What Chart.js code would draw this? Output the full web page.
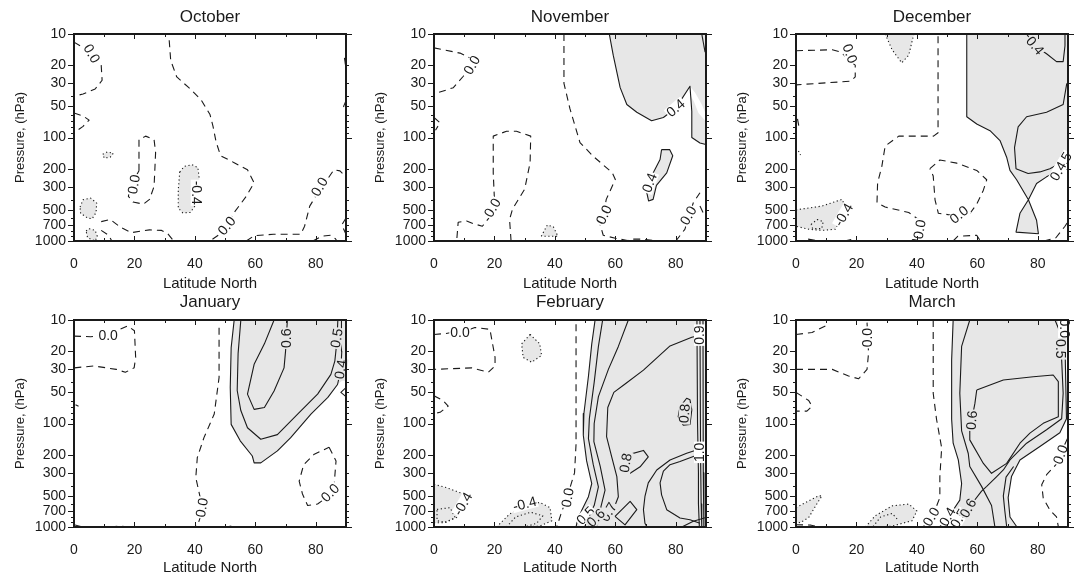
<!DOCTYPE html>
<html>
<head>
<meta charset="utf-8">
<script src="https://cdn.jsdelivr.net/npm/chart.js@4.4.1/dist/chart.umd.min.js"></script>
<style>
  body { margin: 0; background: #fff; width: 1084px; height: 577px; position: relative; overflow: hidden; }
  canvas { position: absolute; }
</style>
</head>
<body>
<canvas id="p0" width="360" height="288" style="left:0px;top:0px"></canvas>
<canvas id="p1" width="360" height="288" style="left:360px;top:0px"></canvas>
<canvas id="p2" width="360" height="288" style="left:722px;top:0px"></canvas>
<canvas id="p3" width="360" height="289" style="left:0px;top:288px"></canvas>
<canvas id="p4" width="360" height="289" style="left:360px;top:288px"></canvas>
<canvas id="p5" width="360" height="289" style="left:722px;top:288px"></canvas>
<script>
const FONT = "'Liberation Sans', Arial, Helvetica, sans-serif";
const INK = '#1a1a1a';
const SHADE = '#e7e7e7';

// axes
const months = ['October', 'November', 'December', 'January', 'February', 'March'];
const latTicks = [0, 20, 40, 60, 80];
const latMinor = [0, 10, 20, 30, 40, 50, 60, 70, 80, 90];
const presTicks = [10, 20, 30, 50, 100, 200, 300, 500, 700, 1000];
const presMinor = [10, 20, 30, 40, 50, 60, 70, 80, 90, 100, 200, 300, 400, 500, 600, 700, 800, 900, 1000];

// contours, points are [latitude, pressure hPa]
// October
const octZeroA = [[0,12],[4,14],[7,17],[9,20],[9.3,28],[7,34],[3,38],[0,40]];
const octZeroB = [[0,58],[3,62],[5,68],[3,78],[0.5,88]];
const octZeroC = [[31.5,11.5],[32,18],[34,26],[38,33],[42,43],[45,60],[46,78],[47,110],[48.5,150],[53,175],[57.4,205],[59.6,274],[57,370],[53,530],[49,830],[45,1000]];
const octZeroD = [[57,1000],[59.6,890],[66,860],[75,860],[76.3,720],[78,460],[81,330],[84,250],[86,205],[88,210],[90,240]];
const octZeroE = [[89.5,17],[90,22]];
const octZeroF = [[90,44],[89.2,50],[90,56]];
const octZeroG = [[90,600],[88.6,700],[90,860]];
const octZeroH = [[79,1000],[82,900],[85,880],[86.5,950],[87,1000]];
const octZeroI = [[21.5,210],[21.5,105],[23.7,97],[26.5,105],[27,140],[26.5,296],[25,396],[23,440],[19.5,420],[18,370],[18.5,300],[21.5,210]];
const octZeroJ = [[9,650],[12,620],[15.5,740],[19,830],[25,780],[29,790],[31,850],[33,1000]];
const octZeroK = [[9,790],[11.5,880],[12.5,1000]];
const octNegA = [[9.5,145],[11,138],[13,142],[12,155],[10,158],[9.5,145]];
const octNegB = [[35,215],[36.5,190],[39,183],[41,195],[41.5,260],[41,350],[40,460],[38.5,530],[36,535],[34.5,480],[34.5,320],[35,215]];
const octNegC = [[2,470],[3,400],[5.5,385],[7.5,430],[7.3,530],[6,610],[4.5,600],[2.2,540],[2,470]];
const octNegD = [[4,800],[5,760],[7,790],[7.7,900],[7,1000],[4.5,930],[4,800]];
const octLabels = [[5.8,15.5,0,60],[50.6,716,0,-50],[81.3,300,0,-60],[19.9,284,0,-80],[40.6,342,-0.4,90]];

// November
const novZeroA = [[0,13.6],[8.6,15.3],[13,17.7],[11.5,22],[9.7,25.6],[6.4,33],[0,38]];
const novZeroB = [[0,64],[2,72],[0.5,85]];
const novZeroC = [[43,10],[43,30],[45,53],[48.3,112],[52.7,152],[59,219],[60,254],[57,396],[56,560],[55,700],[56,880],[60,940],[64,990],[66,960],[69,960],[73,990]];
const novZeroD = [[80,1000],[83,771],[85.8,427],[88,342]];
const novZeroE = [[88,460],[89.6,574]];
const novZeroF = [[25.5,1000],[25,620],[26,490],[30,316],[31.8,175],[32,97],[27.3,87],[24,87],[19.6,97],[19.6,220],[20,400],[19,560],[16,720],[13,680],[10.8,640],[8,660],[7.5,1000]];
const novPosA = [[58,10],[59.3,16],[61.6,33],[63.8,48],[67.1,57],[72,69],[75.9,64],[80,52],[84.7,32],[85.3,56],[85.3,100],[88,113],[90,117]];
const novPosB = [[88.6,10],[89.7,15]];
const novPosC = [[75.3,131],[78,131],[79,150],[77,220],[73.6,290],[72.5,396],[71,410],[70.3,330],[72.5,220],[74.8,163],[75.3,131]];
const novNegA = [[35.5,900],[37.5,700],[39.5,730],[41,900],[35.5,900]];
const novShadeA = novPosA.slice(0, 9).concat([[86.4,37],[88.6,48],[90,60],[90,10]]);
const novShadeB = [[85,40],[85.3,56],[85.3,100],[88,113],[90,117],[90,70],[87.5,58],[86,45]];
const novLabels = [[12.6,20,0,-60],[19.4,480,0,-60],[56.3,560,0,-65],[84.2,570,0,-60],[80,52,0.4,-40],[71.4,274,0.4,-70]];

// December
const decZeroA = [[0,14.5],[12,14.2],[15,15],[17.5,18],[19.6,20],[19.6,26],[18,28.6],[0,31]];
const decZeroB = [[0.5,66],[1,80]];
const decZeroC = [[47,10.5],[47,90],[45.5,97],[34,97],[29.5,121],[28.4,190],[27,274],[26.8,425],[29.5,470],[37.3,530],[40.5,620],[41,720],[40.5,960],[35,1000]];
const decZeroD = [[44.3,200],[47.6,165],[53.2,177],[59.8,208],[63.1,256],[62,323],[59.8,440],[57.6,540],[55.4,560],[51,560],[47.1,540],[46,400],[45.4,235],[44.3,200]];
const decZeroE = [[4,960],[8,1000]];
const decZeroF = [[16,1000],[19,960]];
const decZeroG = [[52,1000],[53.5,900],[59.8,880],[61,1000]];
const decZeroH = [[82,1000],[86,930],[89,720],[90,650]];
const decZeroI = [[73.5,1000],[75,990]];
const decPosA = [[56.5,10],[56.5,63],[59.8,74],[64.2,86],[67.5,107],[69.7,155],[70.8,208],[73,256],[76.9,400],[79.6,630],[80.2,850],[72.8,820],[74.1,540],[76.9,400],[79.6,278],[82.9,240],[86.2,216],[90,200]];
const decPosB = [[89.6,30],[88.4,48],[82.9,57],[76.3,63],[73.5,79],[72.3,125],[72.8,200],[76.8,223],[80.7,215],[84,200],[86.2,185],[90,160]];
const decPosC = [[76.3,10],[79,13],[82.9,15.5],[86.2,18.5],[88.4,18.5],[89,13],[89,10]];
const decNegA = [[29.5,10],[31.8,14.2],[35,19],[37.3,16],[39,10]];
const decNegB = [[0,500],[8.6,460],[15.2,396],[16.3,460],[15,600],[13,770],[8.6,790],[4.2,770],[0,720]];
const decNegC = [[5,690],[7,620],[9,650],[8.5,760],[5.5,760],[5,690]];
const decNegD = [[0.8,135],[1.5,148]];
const decShade = decPosA.concat([[90,10]]);
const decLabels = [[17.8,15.5,0,70],[41,771,0,-80],[54,560,0,-40],[15.8,560,-0.4,-60],[79,13,0.4,50],[88.6,172,0.5,-60],[86.8,212,0.4,-60]];

// January
const janZeroA = [[0,14.3],[5.5,14.5],[11,14],[17.7,11.4],[20,12.7],[20.4,23],[19.9,29],[17,32],[14,30],[6.6,27.8],[0,29]];
const janZeroB = [[0.5,66],[1.5,68]];
const janZeroC = [[48,11.9],[48,36],[46.4,81],[43,137],[40.8,213],[40.3,333],[42,560],[42.5,700],[40.8,980],[39.7,1000]];
const janZeroD = [[0,950],[3,1000]];
const janZeroE = [[12,1000],[15,980],[18,1000]];
const janZeroF = [[51.5,980],[53,1000]];
const janZeroG = [[84.4,170],[86.7,230],[86,415],[83.5,520],[80.6,600],[77.3,620],[75.6,480],[74.5,360],[76,250],[79.5,198],[84.4,170]];
const janPosA = [[53,10],[52,18.5],[51.7,45],[52,102],[55,147],[59,206],[59.6,240],[61.8,240],[67.3,184],[71.7,137],[78.4,81],[84,56],[87.2,42],[88.3,30],[88.6,20],[88.5,10]];
const janPosB = [[55.2,10],[54.3,21],[54,48],[55.2,75],[57.4,110],[61.8,142],[67.3,128],[74,81],[80.6,52],[85,33.5],[86.3,25],[87,16],[87.3,10]];
const janPosC = [[66.2,10],[63,17],[59.6,26.8],[57.4,52],[59.6,73],[63,70],[66.2,48.5],[69.5,29],[70,20],[70.6,10]];
const janPosD = [[90,45],[88.3,50],[90,55]];
const janShade = janPosA.slice(0, 13).concat([[90,36],[90,10]]);
const janLabels = [[11.3,14.2,0,0],[42.4,650,0,-80],[84.8,470,0,-45],[88.3,30,0.4,-80],[87,15,0.5,-80],[70.2,15,0.6,-90]];

// February
const febZeroA = [[0,13.8],[4,13.5],[12,12.3],[13.5,11.8],[18.5,12.3],[20.2,23],[20.2,27.8],[18,32],[12.5,29],[0,30]];
const febZeroB = [[0,54],[3,60],[4.7,68],[2,78],[0,80]];
const febZeroC = [[47,11],[47,159],[46.5,300],[45,417],[43,620],[42,750],[40.6,1000]];
const febNegA = [[31.8,13.8],[29,17],[29.5,23],[32.3,25.6],[35.6,22],[35,17],[31.8,13.8]];
const febNegB = [[0,387],[4.2,417],[11.4,500],[9,650],[7.5,810],[3,910],[0,910]];
const febNegC = [[1,675],[5.3,650],[7,810],[4,905],[1,870],[1,675]];
const febNegD = [[20.7,1000],[25,750],[30.6,600],[35,580],[38.4,650],[39,870],[35,980],[29.5,1000]];
const febNegE = [[24,1000],[27,800],[32,720],[36,780],[34,920],[30,1000]];
const febPosA = [[53.3,10],[52.2,17],[51.1,35],[49.6,80],[49.4,130],[50.5,230],[52.2,380],[51.1,510],[48.9,690],[47.5,850],[47,1000]];
const febPosB = [[55.8,10],[54.4,18],[53,40],[51.4,90],[51.1,140],[52.7,250],[54.4,410],[53,620],[50.5,850],[49.5,1000]];
const febPosC = [[64.3,10],[61,18],[57.7,30],[54.4,55],[53,100],[52.9,150],[55,260],[56.6,440],[55,680],[52,900],[51,1000]];
const febPosD = [[88.5,14],[85.3,14.7],[78.1,17.8],[69.3,30.5],[63,42],[59.5,50],[57.5,70],[57.1,134],[58.8,210],[60.5,326],[61,510],[59.3,685],[57.1,740],[54.5,900],[53.5,1000]];
const febPosE = [[87,10],[87.2,100],[87.5,300],[87.5,600],[87.8,1000]];
const febPosF = [[88,10],[88.2,200],[88.4,600],[88.6,1000]];
const febPosG = [[89,10],[89.1,300],[89.3,1000]];
const febPosH = [[88,175],[86.9,180],[83.6,194],[78.1,225],[73.7,281],[70.9,375],[69.8,507],[69.3,680],[69.8,920],[70.5,1000]];
const febPosI = [[88,190],[86.9,203],[81.4,233],[78.1,250],[75.9,289],[74.8,375],[75.3,489],[77,680],[81.4,820],[84.7,850],[88,920]];
const febPosJ = [[59.9,790],[64.9,565],[67.1,680],[63.2,955],[59.9,790]];
const febPosK = [[81.4,69],[83.6,57],[84.7,59],[85.3,74],[84.7,102],[82.5,104],[80.8,86],[81.4,69]];
const febPosL = [[63.8,202],[69.3,182],[70.9,210],[68.2,262],[64.9,303],[62.7,270],[63.8,202]];
const febPosM = [[82,1000],[85.8,880],[90,810]];
const febShade = febPosA.concat([[90,1000],[90,10]]);
const febLabels = [[8.6,13.2,0,0],[44.3,521,0,-80],[9.6,600,-0.4,-60],[30,600,-0.4,-15],[57.8,720,0.7,-60],[83,80,0.8,-85],[63.5,240,0.8,-80],[88,14,0.9,-90],[88,190,1.0,-90],[50.2,780,0.5,-45],[53.6,820,0.6,-45]];

// March
const marZeroA = [[0,13.8],[5.3,13.2],[10.8,11]];
const marZeroB = [[0,30],[12,30],[17.4,34.7],[20.7,37],[23.5,30],[24,21],[23.8,15],[23.5,10.6]];
const marZeroC = [[0,50],[4.2,60],[5.3,68],[3.6,76],[0,76]];
const marZeroD = [[45.4,10],[45.4,51],[46.5,91],[48.2,172],[47.6,326],[47.6,520],[46,685],[42.1,990]];
const marZeroE = [[89.8,140],[88.5,170],[86,250],[83,310],[81.3,390],[81.8,525],[84,685],[86.2,800],[86.8,990]];
const marZeroF = [[0,950],[5,960],[8,1000]];
const marNegA = [[0,650],[4.2,560],[7.5,500],[8.6,500],[7.5,560],[4.2,810],[1.4,910],[0,880]];
const marNegB = [[23,1000],[26.2,780],[31.8,625],[37.3,600],[40,700],[38.4,870],[31.8,980],[26.2,1000]];
const marNegC = [[25.5,990],[28,800],[31.8,740],[34,870]];
const marPosA = [[52,10],[51.5,24.3],[51.5,91],[52,155],[53.7,225],[54.8,380],[54.2,550],[52,685],[48.7,920],[47.5,1000]];
const marPosB = [[57.5,10],[54.8,18],[54.2,51],[54.8,118],[57,195],[57.5,260],[61.4,405],[64.7,620],[65.8,990]];
const marPosD = [[59.8,47.5],[68.6,38],[78.5,35.3],[85.1,34],[86.8,39.4],[86.8,86],[81.8,99.6],[77.4,124],[74.1,155],[69.7,243],[64.7,303],[62,243],[57.5,144],[57.5,115],[59.2,64],[59.8,47.5]];
const marPosE = [[85.7,10],[87.3,13],[87.9,24.3],[88.4,51],[87.9,90],[82.9,115],[76.3,155],[70.8,225],[68.6,281],[66.4,326],[63.1,405],[61.4,450],[58.7,570],[56.4,685],[53.5,850],[52,1000]];
const marPosF = [[87.9,10],[89,16.8],[89.5,90],[87.3,123],[80.7,167],[74.1,225],[71.3,326],[70.2,520],[70.8,800],[73,990]];
const marPosG = [[72,260],[69.5,330],[68.6,500],[69.1,700],[69.7,990]];
const marShade = marPosA.concat(marPosF.slice().reverse());
const marLabels = [[23.6,14.8,0,-90],[44.8,800,0,-60],[87.6,200,0,-70],[58.2,93,0.6,-85],[88.7,12,0,90],[87.5,19,0.5,90],[50.2,800,0.4,-60],[53.9,830,0.5,-60],[57,660,0.6,-60]];

const panels = [
  { lines: [[0,octZeroA],[0,octZeroB],[0,octZeroC],[0,octZeroD],[0,octZeroE],[0,octZeroF],[0,octZeroG],[0,octZeroH],[0,octZeroI],[0,octZeroJ],[0,octZeroK],
            [-0.4,octNegA],[-0.4,octNegB],[-0.4,octNegC],[-0.4,octNegD]],
    shades: [octNegA, octNegB, octNegC, octNegD], labels: octLabels },
  { lines: [[0,novZeroA],[0,novZeroB],[0,novZeroC],[0,novZeroD],[0,novZeroE],[0,novZeroF],[0.4,novPosA],[0.4,novPosB],[0.4,novPosC],[-0.4,novNegA]],
    shades: [novShadeA, novShadeB, novPosC, novNegA], labels: novLabels },
  { lines: [[0,decZeroA],[0,decZeroB],[0,decZeroC],[0,decZeroD],[0,decZeroE],[0,decZeroF],[0,decZeroG],[0,decZeroH],[0,decZeroI],
            [0.4,decPosA],[0.5,decPosB],[0.4,decPosC],[-0.4,decNegA],[-0.4,decNegB],[-0.4,decNegC],[-0.4,decNegD]],
    shades: [decShade, decNegA, decNegB], labels: decLabels },
  { lines: [[0,janZeroA],[0,janZeroB],[0,janZeroC],[0,janZeroD],[0,janZeroE],[0,janZeroF],[0,janZeroG],
            [0.4,janPosA],[0.5,janPosB],[0.6,janPosC],[0.4,janPosD]],
    shades: [janShade], labels: janLabels },
  { lines: [[0,febZeroA],[0,febZeroB],[0,febZeroC],[-0.4,febNegA],[-0.4,febNegB],[-0.4,febNegC],[-0.4,febNegD],[-0.4,febNegE],
            [0.4,febPosA],[0.5,febPosB],[0.6,febPosC],[0.7,febPosD],[0.9,febPosE],[0.9,febPosF],[1.0,febPosG],
            [0.7,febPosH],[0.8,febPosI],[0.8,febPosJ],[0.8,febPosK],[0.8,febPosL],[0.7,febPosM]],
    shades: [febShade, febNegA, febNegB, febNegD], labels: febLabels },
  { lines: [[0,marZeroA],[0,marZeroB],[0,marZeroC],[0,marZeroD],[0,marZeroE],[0,marZeroF],[-0.4,marNegA],[-0.4,marNegB],[-0.4,marNegC],
            [0.4,marPosA],[0.5,marPosB],[0.6,marPosD],[0.5,marPosE],[0.4,marPosF],[0.5,marPosG]],
    shades: [marShade, marNegA, marNegB], labels: marLabels }
];

function xy(pts) {
  return pts.map(([lat, p]) => ({ x: lat, y: p }));
}

function dashFor(level) {
  if (level === 0) return [7, 5];
  if (level < 0) return [1.2, 2.6];
  return [];
}

// label box colour: look at what is already painted around it
function pickBackground(ctx, cx, cy, r) {
  let grey = 0, white = 0;
  for (let k = 0; k < 12; k++) {
    const a = k * Math.PI / 6;
    const d = ctx.getImageData(Math.round(cx + r * Math.cos(a)), Math.round(cy + r * 0.7 * Math.sin(a)), 1, 1).data;
    if (d[3] < 100 || d[0] > 248) white++;
    else if (d[0] > 190) grey++;
  }
  return grey > white ? SHADE : '#ffffff';
}

function overlayPlugin(labels) {
  return {
    id: 'overlay',
    afterDatasetsDraw(chart) {
      const { ctx, chartArea: a, scales: { x, y } } = chart;
      ctx.save();
      ctx.font = '14px ' + FONT;
      labels.forEach(([lat, p, level, angle]) => {
        const text = level.toFixed(1);
        const px = x.getPixelForValue(lat);
        const py = y.getPixelForValue(p);
        const w = ctx.measureText(text).width;
        const bg = pickBackground(ctx, px, py, w / 2 + 5);
        ctx.save();
        ctx.translate(px, py);
        ctx.rotate(angle * Math.PI / 180);
        ctx.fillStyle = bg;
        ctx.fillRect(-w / 2 - 1, -6, w + 2, 12);
        ctx.fillStyle = INK;
        ctx.textAlign = 'center';
        ctx.textBaseline = 'middle';
        ctx.fillText(text, 0, 0.5);
        ctx.restore();
      });

      // tick marks and frame
      ctx.strokeStyle = INK;
      ctx.lineWidth = 1;
      ctx.beginPath();
      presMinor.forEach(v => {
        const py = Math.round(y.getPixelForValue(v)) + 0.5;
        const labelled = presTicks.includes(v);
        const decade = v === 10 || v === 100 || v === 1000;
        ctx.moveTo(a.left - (labelled ? 6 : 3), py); ctx.lineTo(a.left, py);
        ctx.moveTo(a.right, py); ctx.lineTo(a.right + (decade ? 6 : 3), py);
      });
      latMinor.forEach(v => {
        const px = Math.round(x.getPixelForValue(v)) + 0.5;
        const len = v % 20 === 0 ? 5 : 3;
        ctx.moveTo(px, a.bottom); ctx.lineTo(px, a.bottom - len);
        ctx.moveTo(px, a.top); ctx.lineTo(px, a.top + len);
      });
      ctx.stroke();
      ctx.lineWidth = 2;
      ctx.strokeRect(a.left, a.top, a.right - a.left, a.bottom - a.top);
      ctx.restore();
    }
  };
}

function buildPanel(cfg, i) {
  const topRow = i < 3;
  const datasets = [];
  cfg.shades.forEach(s => datasets.push({
    data: xy(s), showLine: true, fill: 'shape', backgroundColor: SHADE,
    borderColor: 'rgba(0,0,0,0)', borderWidth: 0, pointRadius: 0, order: 2
  }));
  cfg.lines.forEach(([level, pts]) => datasets.push({
    data: xy(pts), showLine: true, fill: false, borderColor: INK, borderWidth: 1.1,
    borderDash: dashFor(level), borderJoinStyle: 'round', pointRadius: 0, order: 1
  }));

  new Chart(document.getElementById('p' + i), {
    type: 'scatter',
    data: { datasets },
    options: {
      responsive: false,
      animation: false,
      events: [],
      layout: { padding: { left: 0, right: 14, top: 0, bottom: 0 } },
      plugins: {
        legend: { display: false },
        tooltip: { enabled: false },
        title: {
          display: true, text: months[i], fullSize: false, color: INK,
          font: { family: FONT, size: 17, weight: 'normal', lineHeight: 1.1 },
          padding: topRow ? { top: 8, bottom: 7.3 } : { top: 5, bottom: 8.3 }
        }
      },
      scales: {
        x: {
          type: 'linear', min: 0, max: 90,
          grid: { display: false }, border: { display: false },
          afterBuildTicks: s => { s.ticks = latTicks.map(v => ({ value: v })); },
          afterFit: s => { s.height = topRow ? 47 : 50; },
          ticks: { color: INK, font: { family: FONT, size: 14 }, padding: 7, maxRotation: 0 },
          title: {
            display: true, text: 'Latitude North', color: INK,
            font: { family: FONT, size: 15, lineHeight: 1 },
            padding: { top: 0, bottom: topRow ? -3 : 1.5 }
          }
        },
        y: {
          type: 'logarithmic', reverse: true, min: 10, max: 1000,
          grid: { display: false }, border: { display: false },
          afterBuildTicks: s => { s.ticks = presTicks.map(v => ({ value: v })); },
          afterFit: s => { s.width = 74; },
          ticks: { color: INK, font: { family: FONT, size: 14 }, padding: 0, autoSkip: false, callback: v => String(v) },
          title: {
            display: true, text: 'Pressure, (hPa)', color: INK,
            font: { family: FONT, size: 13 },
            padding: { top: 13, bottom: 0 }
          }
        }
      }
    },
    plugins: [overlayPlugin(cfg.labels)]
  });
}

panels.forEach(buildPanel);
</script>
</body>
</html>
